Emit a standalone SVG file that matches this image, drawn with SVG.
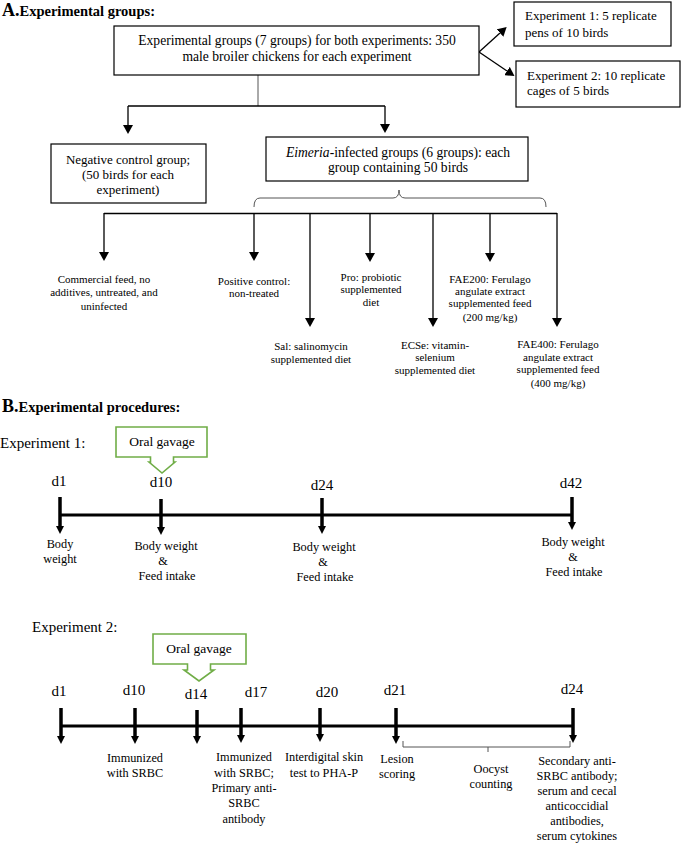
<svg xmlns="http://www.w3.org/2000/svg" width="685" height="843" viewBox="0 0 685 843" font-family="'Liberation Serif','Times New Roman',serif">
<defs>
<style>
text{font-family:"Liberation Serif","Times New Roman",serif;fill:#000}
.hd{font-weight:bold;font-size:14.5px}
.hl{font-weight:bold;font-size:18px}
.bx{font-size:13px}
.bl{font-size:13.6px}
.c{text-anchor:middle}
.tr{font-size:11px}
.dl{font-size:15px}
.lb{font-size:12.3px}
.box{fill:#fff;stroke:#000;stroke-width:1.2}
.gv{fill:#fff;stroke:#70ad47;stroke-width:1.6}
.ln{fill:none;stroke:#000;stroke-width:1.3}
.thin{fill:none;stroke:#555;stroke-width:1}
.tl{fill:none;stroke:#000;stroke-width:3}
.tk{fill:none;stroke:#000;stroke-width:3.5}
</style>
<marker id="ah" markerUnits="userSpaceOnUse" markerWidth="9" markerHeight="10" refX="0" refY="5" orient="auto" viewBox="0 0 9 10"><path d="M0,0L9,5L0,10z" fill="#000"/></marker>
<marker id="ahT" markerUnits="userSpaceOnUse" markerWidth="8" markerHeight="8" refX="0" refY="4" orient="auto" viewBox="0 0 8 8"><path d="M0,0L8,4L0,8z" fill="#000"/></marker>
</defs>
<rect width="685" height="843" fill="#fff"/>

<text x="2" y="16"><tspan class="hl">A.</tspan><tspan class="hd">Experimental groups:</tspan></text>

<g id="connectors">
<path class="thin" d="M258,75V106"/>
<path class="ln" d="M128,106H385"/>
<path class="ln" d="M128,106V125" marker-end="url(#ah)"/>
<path class="ln" d="M385,106V124" marker-end="url(#ah)"/>
<path class="ln" d="M479,52L500,33" marker-end="url(#ah)"/>
<path class="ln" d="M479,52L507,71" marker-end="url(#ah)"/>
<path class="thin" d="M254,207Q254,198 260,198H393Q399,198 399,190Q399,198 405,198H540Q546,198 546,207"/>
<path class="ln" d="M104,213.5H557"/>
<path class="ln" d="M104,213V252" marker-end="url(#ah)"/>
<path class="ln" d="M254,213V252" marker-end="url(#ah)"/>
<path class="ln" d="M310,213V318" marker-end="url(#ah)"/>
<path class="ln" d="M370,213V253" marker-end="url(#ah)"/>
<path class="ln" d="M433,213V318" marker-end="url(#ah)"/>
<path class="ln" d="M490,213V253" marker-end="url(#ah)"/>
<path class="ln" d="M557,213V318" marker-end="url(#ah)"/>

<path class="tl" d="M60,515H572"/>
<path class="tk" d="M60,497V526" marker-end="url(#ahT)"/>
<path class="tk" d="M161,499V527" marker-end="url(#ahT)"/>
<path class="tk" d="M322,498V526" marker-end="url(#ahT)"/>
<path class="tk" d="M572,497V522" marker-end="url(#ahT)"/>

<path class="tl" d="M61,726H573"/>
<path class="tk" d="M61,708V736" marker-end="url(#ahT)"/>
<path class="tk" d="M135,708V736" marker-end="url(#ahT)"/>
<path class="tk" d="M197,710V736" marker-end="url(#ahT)"/>
<path class="tk" d="M241,708V735" marker-end="url(#ahT)"/>
<path class="tk" d="M320,708V734" marker-end="url(#ahT)"/>
<path class="tk" d="M396,708V736" marker-end="url(#ahT)"/>
<path class="tk" d="M573,708V735" marker-end="url(#ahT)"/>
<path class="thin" d="M403,741V747H570V741M488,747V752"/>
</g>

<g id="main">
<rect class="box" x="114" y="26" width="365" height="49"/>
<text class="bl c" x="297" y="45">Experimental groups (7 groups) for both experiments: 350</text>
<text class="bl c" x="297" y="61">male broiler chickens for each experiment</text>
</g>
<g id="exp1box">
<rect class="box" x="514" y="2" width="157" height="44"/>
<text class="bx" x="525" y="20">Experiment 1: 5 replicate</text>
<text class="bx" x="525" y="37">pens of 10 birds</text>
</g>
<g id="exp2box">
<rect class="box" x="516" y="61" width="164" height="46"/>
<text class="bx" x="527" y="80">Experiment 2: 10 replicate</text>
<text class="bx" x="527" y="95">cages of 5 birds</text>
</g>
<g id="negative">
<rect class="box" x="51" y="144" width="155" height="59"/>
<text class="bx c" x="128" y="164">Negative control group;</text>
<text class="bx c" x="128" y="179">(50 birds for each</text>
<text class="bx c" x="128" y="194">experiment)</text>
</g>
<g id="eimeria">
<rect class="box" x="266" y="137" width="262" height="44"/>
<text class="bl c" x="398" y="157"><tspan font-style="italic">Eimeria</tspan>-infected groups (6 groups): each</text>
<text class="bl c" x="398" y="172">group containing 50 birds</text>
</g>

<g id="t-commercial">
<text class="tr c" x="104" y="283">Commercial feed, no</text>
<text class="tr c" x="104" y="296">additives, untreated, and</text>
<text class="tr c" x="104" y="310">uninfected</text>
</g>
<g id="t-positive">
<text class="tr c" x="254" y="285">Positive control:</text>
<text class="tr c" x="254" y="297">non-treated</text>
</g>
<g id="t-pro">
<text class="tr c" x="371" y="281">Pro: probiotic</text>
<text class="tr c" x="371" y="293">supplemented</text>
<text class="tr c" x="371" y="306">diet</text>
</g>
<g id="t-fae200">
<text class="tr c" x="490" y="283">FAE200: Ferulago</text>
<text class="tr c" x="490" y="295">angulate extract</text>
<text class="tr c" x="490" y="307">supplemented feed</text>
<text class="tr c" x="490" y="321">(200 mg/kg)</text>
</g>
<g id="t-sal">
<text class="tr c" x="311" y="350">Sal: salinomycin</text>
<text class="tr c" x="311" y="363">supplemented diet</text>
</g>
<g id="t-ecse">
<text class="tr c" x="435" y="349">ECSe: vitamin-</text>
<text class="tr c" x="435" y="361">selenium</text>
<text class="tr c" x="435" y="374">supplemented diet</text>
</g>
<g id="t-fae400">
<text class="tr c" x="558" y="348">FAE400: Ferulago</text>
<text class="tr c" x="558" y="361">angulate extract</text>
<text class="tr c" x="558" y="373">supplemented feed</text>
<text class="tr c" x="558" y="387">(400 mg/kg)</text>
</g>

<text x="2" y="412"><tspan class="hl">B.</tspan><tspan class="hd">Experimental procedures:</tspan></text>

<g id="exp1">
<text class="dl" x="0" y="448">Experiment 1:</text>
<polygon class="gv" points="116,427 207,427 207,457 173.5,457 173.5,462 175,462 162,473 149,462 150.5,462 150.5,457 116,457"/>
<text class="c" x="162" y="446" style="font-size:13.5px">Oral gavage</text>
<text class="dl c" x="59" y="486">d1</text>
<text class="dl c" x="161" y="487">d10</text>
<text class="dl c" x="322" y="490">d24</text>
<text class="dl c" x="571" y="488">d42</text>
<text class="lb c" x="60" y="548">Body</text>
<text class="lb c" x="60" y="563">weight</text>
<text class="lb c" x="166" y="550">Body weight</text>
<text class="lb c" x="163" y="565">&amp;</text>
<text class="lb c" x="167" y="580">Feed intake</text>
<text class="lb c" x="324" y="551">Body weight</text>
<text class="lb c" x="323" y="566">&amp;</text>
<text class="lb c" x="325" y="581">Feed intake</text>
<text class="lb c" x="573" y="546">Body weight</text>
<text class="lb c" x="573" y="561">&amp;</text>
<text class="lb c" x="574" y="576">Feed intake</text>
</g>

<g id="exp2">
<text class="dl" x="32" y="632">Experiment 2:</text>
<polygon class="gv" points="153,634 246,634 246,664 210.5,664 210.5,670 214,670 199,681 184,670 187.5,670 187.5,664 153,664"/>
<text class="c" x="199" y="653" style="font-size:13.5px">Oral gavage</text>
<text class="dl c" x="59" y="696">d1</text>
<text class="dl c" x="134" y="695">d10</text>
<text class="dl c" x="196" y="699">d14</text>
<text class="dl c" x="256" y="697">d17</text>
<text class="dl c" x="327" y="697">d20</text>
<text class="dl c" x="395" y="695">d21</text>
<text class="dl c" x="572" y="694">d24</text>
<text class="lb c" x="135" y="762">Immunized</text>
<text class="lb c" x="135" y="777">with SRBC</text>
<text class="lb c" x="244" y="761">Immunized</text>
<text class="lb c" x="244" y="777">with SRBC;</text>
<text class="lb c" x="244" y="792">Primary anti-</text>
<text class="lb c" x="244" y="807">SRBC</text>
<text class="lb c" x="244" y="823">antibody</text>
<text class="lb c" x="324" y="761">Interdigital skin</text>
<text class="lb c" x="324" y="777">test to PHA-P</text>
<text class="lb c" x="397" y="763">Lesion</text>
<text class="lb c" x="397" y="778">scoring</text>
<text class="lb c" x="491" y="773">Oocyst</text>
<text class="lb c" x="491" y="788">counting</text>
<text class="lb c" x="577" y="765">Secondary anti-</text>
<text class="lb c" x="577" y="780">SRBC antibody;</text>
<text class="lb c" x="577" y="795">serum and cecal</text>
<text class="lb c" x="577" y="810">anticoccidial</text>
<text class="lb c" x="577" y="825">antibodies,</text>
<text class="lb c" x="577" y="840">serum cytokines</text>
</g>
</svg>
